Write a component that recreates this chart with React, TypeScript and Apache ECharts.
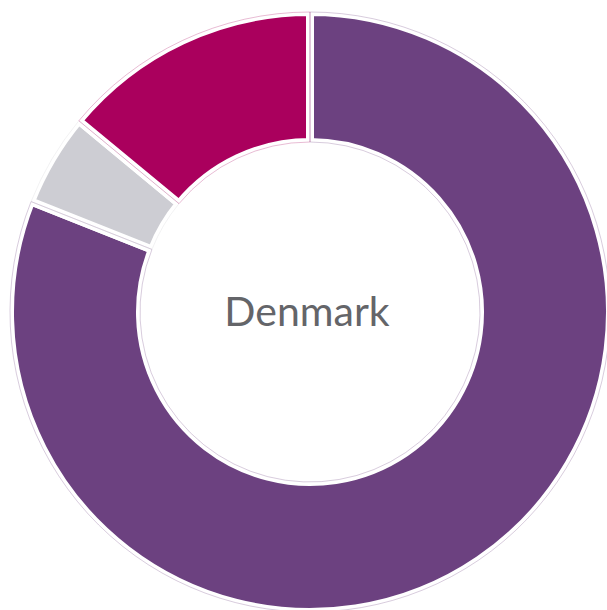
import React, { useEffect, useRef } from "react";
import * as echarts from "echarts";

const categories = ["Share A", "Share B", "Share C"];
const values = [81, 5, 14];
const colors = ["#6c4180", "#cdcdd3", "#aa005d"];
const centerLabel = "Denmark";

export default function App() {
  const ref = useRef<HTMLDivElement>(null);
  useEffect(() => {
    if (!ref.current) return;
    const chart = echarts.init(ref.current, null, { renderer: "svg" });
    const data = categories.map((name, i) => ({
      name,
      value: values[i],
      itemStyle: { color: colors[i] },
    }));
    const outlineData = categories.map((name, i) => ({
      name,
      value: values[i],
      itemStyle: { color: "rgba(0,0,0,0)", borderColor: colors[i], borderWidth: 0.6, opacity: 0.45 },
    }));
    chart.setOption({
      animation: false,
      backgroundColor: "#ffffff",
      series: [
        {
          type: "pie",
          center: [310, 312],
          radius: [170, 300],
          startAngle: 90,
          clockwise: true,
          label: { show: false },
          labelLine: { show: false },
          silent: true,
          itemStyle: { borderColor: "#ffffff", borderWidth: 8 },
          data,
        },
        {
          type: "pie",
          center: [310, 312],
          radius: [170, 300],
          startAngle: 90,
          clockwise: true,
          label: { show: false },
          labelLine: { show: false },
          silent: true,
          data: outlineData,
        },
      ],
      graphic: [
        {
          type: "text",
          x: 307,
          y: 310,
          style: {
            text: centerLabel,
            x: 0,
            y: 0,
            fill: "#646569",
            font: "41px Lato",
            textAlign: "center",
            textVerticalAlign: "middle",
          },
        },
      ],
    });
    return () => chart.dispose();
  }, []);
  return (
    <div
      ref={ref}
      style={{ position: "fixed", left: 0, top: 0, width: 607, height: 610 }}
    />
  );
}
